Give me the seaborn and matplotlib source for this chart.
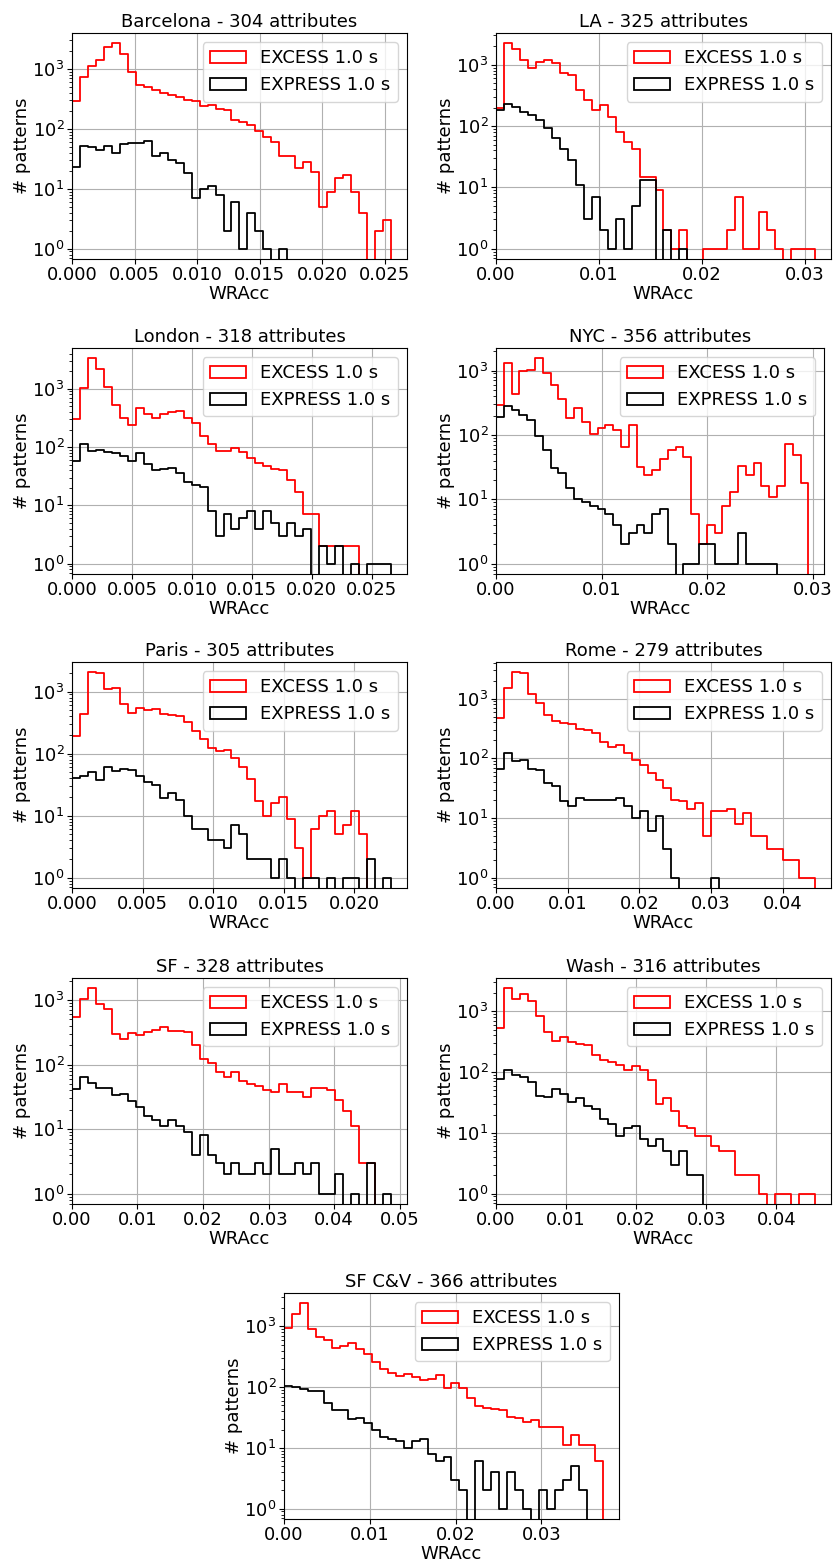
import numpy as np
import pandas as pd
import seaborn as sns
import matplotlib.pyplot as plt
from matplotlib.patches import Patch

plt.rcParams['font.size'] = 13
plt.rcParams['xtick.major.pad'] = 1.5
plt.rcParams['ytick.major.pad'] = 2
plt.rcParams['axes.labelpad'] = 1

# panel titles and upper edge of the 40 shared WRAcc bins
titles = ['Barcelona - 304 attributes', 'LA - 325 attributes', 'London - 318 attributes',
          'NYC - 356 attributes', 'Paris - 305 attributes', 'Rome - 279 attributes',
          'SF - 328 attributes', 'Wash - 316 attributes', 'SF C&V - 366 attributes']
wracc_max = [0.0255, 0.0310, 0.0266, 0.02955, 0.0226, 0.0445, 0.0487, 0.0455, 0.0372]
labels = ['EXCESS 1.0 s', 'EXPRESS 1.0 s']

# pattern counts per bin
barcelona_excess = [288, 727, 1140, 1410, 2350, 2680, 1780, 880, 530, 500,
                    450, 395, 362, 340, 307, 288, 237, 246, 217, 209,
                    139, 131, 118, 91, 74, 61, 35, 35, 22, 28,
                    19, 5, 9, 15, 17, 9, 4, 0, 2, 3]
barcelona_express = [23, 52, 50, 44, 52, 39, 55, 57, 57, 63,
                     35, 39, 30, 27, 18, 7, 10, 11, 8, 2,
                     6, 1, 4, 2, 1, 0, 1, 0, 0, 0,
                     0, 0, 0, 0, 0, 0, 0, 0, 0, 0]
la_excess = [198, 2240, 1820, 1200, 887, 1100, 1180, 1070, 731, 670,
             392, 270, 186, 219, 141, 81, 56, 43, 15, 15,
             9, 2, 1, 2, 0, 0, 1, 1, 1, 2,
             7, 1, 1, 4, 2, 1, 0, 1, 1, 1]
la_express = [181, 228, 201, 171, 150, 125, 92, 63, 43, 28,
              11, 3, 7, 2, 1, 3, 1, 5, 13, 13,
              0, 2, 0, 1, 0, 0, 0, 0, 0, 0,
              0, 0, 0, 0, 0, 0, 0, 0, 0, 0]
london_excess = [300, 1040, 3330, 2190, 1090, 520, 310, 243, 467, 375,
                 320, 366, 400, 415, 320, 260, 154, 113, 86, 86,
                 95, 83, 64, 53, 48, 42, 41, 27, 17, 7,
                 7, 2, 2, 2, 2, 2, 0, 0, 0, 0]
london_express = [58, 111, 87, 88, 83, 78, 70, 58, 78, 51,
                  40, 42, 44, 36, 25, 22, 21, 8, 3, 7,
                  4, 6, 8, 4, 8, 5, 3, 5, 3, 4,
                  0, 2, 1, 2, 0, 1, 0, 1, 1, 1]
nyc_excess = [295, 1300, 436, 1000, 1020, 1550, 910, 587, 364, 183,
              260, 159, 105, 130, 144, 121, 66, 141, 32, 24,
              29, 42, 58, 66, 46, 6, 2, 4, 3, 8,
              13, 33, 24, 37, 16, 11, 16, 73, 48, 18]
nyc_express = [190, 277, 245, 206, 168, 95, 59, 31, 26, 15,
               10, 9, 8, 7, 6, 4, 2, 3, 4, 3,
               6, 7, 2, 0, 1, 1, 2, 2, 1, 1,
               1, 3, 1, 1, 1, 1, 0, 0, 0, 0]
paris_excess = [194, 438, 2040, 2000, 1100, 1140, 620, 457, 533, 500,
                515, 438, 416, 405, 324, 233, 175, 122, 111, 115,
                84, 60, 39, 17, 10, 16, 20, 9, 3, 1,
                6, 10, 12, 5, 7, 12, 5, 0, 0, 0]
paris_express = [40, 43, 51, 37, 60, 53, 57, 55, 44, 35,
                 31, 19, 23, 18, 10, 6, 6, 4, 4, 3,
                 7, 5, 2, 2, 2, 1, 2, 1, 0, 1,
                 1, 0, 1, 0, 1, 1, 0, 2, 0, 1]
rome_excess = [480, 1520, 2760, 2690, 1180, 856, 530, 426, 390, 374,
               310, 298, 263, 191, 157, 168, 122, 95, 78, 57,
               43, 32, 20, 19, 14, 18, 5, 13, 13, 14,
               8, 12, 5, 5, 3, 3, 2, 2, 1, 1]
rome_express = [67, 124, 89, 95, 67, 63, 39, 35, 19, 16,
                22, 20, 20, 20, 20, 22, 16, 10, 13, 6,
                11, 3, 1, 0, 0, 0, 0, 1, 0, 0,
                0, 0, 0, 0, 0, 0, 0, 0, 0, 0]
sf_excess = [540, 1040, 1520, 870, 725, 293, 251, 307, 282, 325,
             345, 387, 336, 336, 317, 203, 120, 106, 77, 65,
             77, 56, 50, 46, 40, 37, 50, 38, 37, 32,
             44, 43, 40, 28, 19, 11, 3, 3, 0, 0]
sf_express = [42, 65, 52, 43, 43, 34, 35, 27, 22, 16,
              14, 11, 14, 11, 9, 4, 8, 4, 3, 2,
              3, 2, 2, 3, 2, 5, 2, 2, 3, 2,
              3, 1, 1, 2, 0, 1, 0, 3, 0, 1]
wash_excess = [527, 2390, 1590, 1910, 1490, 850, 455, 330, 374, 310,
               290, 274, 188, 155, 145, 129, 110, 126, 107, 73,
               30, 38, 23, 13, 12, 9, 9, 6, 5, 5,
               2, 2, 2, 1, 0, 1, 1, 0, 1, 1]
wash_express = [78, 107, 91, 83, 69, 41, 39, 53, 44, 32,
                38, 28, 25, 17, 14, 9, 12, 13, 8, 6,
                8, 5, 3, 5, 2, 2, 0, 0, 0, 0,
                0, 0, 0, 0, 0, 0, 0, 0, 0, 0]
sfcv_excess = [945, 1590, 2400, 910, 680, 600, 447, 468, 530, 428,
               347, 259, 202, 171, 151, 167, 148, 130, 138, 157,
               98, 118, 95, 67, 49, 46, 43, 42, 32, 31,
               27, 29, 22, 22, 22, 11, 16, 11, 11, 6]
sfcv_express = [104, 99, 92, 87, 87, 55, 42, 42, 30, 31,
                26, 20, 15, 14, 13, 10, 13, 14, 8, 6,
                7, 3, 2, 0, 6, 2, 4, 1, 4, 2,
                1, 0, 2, 1, 2, 3, 5, 2, 0, 0]

excess = [barcelona_excess, la_excess, london_excess, nyc_excess, paris_excess,
          rome_excess, sf_excess, wash_excess, sfcv_excess]
express = [barcelona_express, la_express, london_express, nyc_express, paris_express,
           rome_express, sf_express, wash_express, sfcv_express]

# axes boxes [left, bottom, width, height] in figure fractions
W, H = 0.4007, 0.1445
boxes = [[0.0861, 0.8344, W, H], [0.5933, 0.8344, W, H],
         [0.0861, 0.6330, W, H], [0.5933, 0.6330, 0.3923, H],
         [0.0861, 0.4322, W, H], [0.5933, 0.4322, W, H],
         [0.0861, 0.2302, W, H], [0.5933, 0.2302, W, H],
         [0.3397, 0.0288, W, H]]

fig = plt.figure(figsize=(8.36, 15.64), dpi=100)

for i in range(len(titles)):
    ax = fig.add_axes(boxes[i])
    top = wracc_max[i]
    n = len(excess[i])
    w = top / n
    # one empty bin on each side so the step outline closes like plt.hist(histtype='step')
    edges = np.linspace(-w, top + w, n + 3)
    centers = (edges[:-1] + edges[1:]) / 2
    for counts, col in [(excess[i], 'red'), (express[i], 'black')]:
        df = pd.DataFrame({'wracc': centers, 'n': np.r_[0, counts, 0]})
        sns.histplot(data=df, x='wracc', weights='n', bins=n + 2, binrange=(edges[0], edges[-1]),
                     element='step', fill=False, color=col, linewidth=1.3, ax=ax)
    ax.set_yscale('log')
    lg = np.log10(max(max(excess[i]), max(express[i])))
    ax.set_ylim(10 ** (-0.05 * lg), 10 ** (1.05 * lg))
    ax.set_xlim(0, top * 1.05)
    ax.grid(True)
    ax.set_title(titles[i], fontsize=13, pad=4)
    ax.set_xlabel('WRAcc')
    ax.set_ylabel('# patterns')
    handles = [Patch(facecolor='none', edgecolor='red', linewidth=1.3),
               Patch(facecolor='none', edgecolor='black', linewidth=1.3)]
    ax.legend(handles, labels, loc='upper right')

fig.savefig('out.png', dpi=100)
